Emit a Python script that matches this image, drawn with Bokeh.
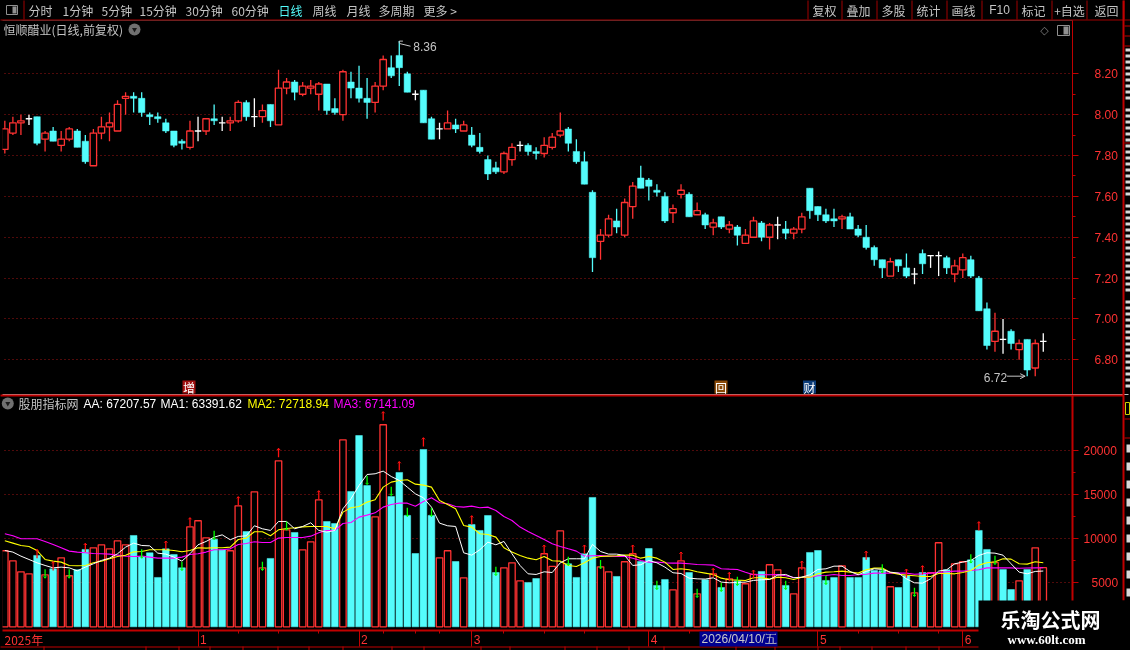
from bokeh.plotting import figure
from bokeh.layouts import column
from bokeh.core.properties import value
from bokeh.models import (Range1d, FixedTicker, Label, Arrow, OpenHead)
from bokeh.embed import file_html
from bokeh.resources import INLINE

open_ = [7.83,7.91,7.96,7.98,7.99,7.88,7.92,7.85,7.88,7.92,
 7.87,7.75,7.91,7.94,7.92,8.08,8.09,8.08,8.00,7.99,
 7.96,7.92,7.87,7.84,7.92,7.92,7.98,7.96,7.96,7.97,
 8.06,7.99,7.99,8.05,7.95,8.13,8.16,8.10,8.13,8.10,
 8.15,8.03,8.00,8.16,8.13,8.08,8.06,8.14,8.23,8.29,
 8.20,8.10,8.12,7.98,7.93,7.93,7.95,7.92,7.90,7.84,
 7.78,7.74,7.72,7.78,7.85,7.85,7.82,7.81,7.84,7.90,
 7.93,7.82,7.77,7.62,7.38,7.41,7.48,7.41,7.55,7.69,
 7.68,7.63,7.60,7.52,7.61,7.61,7.51,7.51,7.45,7.50,
 7.44,7.45,7.37,7.40,7.47,7.40,7.46,7.44,7.42,7.44,
 7.64,7.55,7.51,7.49,7.49,7.50,7.44,7.40,7.35,7.29,
 7.21,7.29,7.25,7.22,7.32,7.31,7.31,7.30,7.22,7.24,
 7.29,7.20,7.05,6.89,6.90,6.94,6.85,6.90,6.76,6.89]
high = [7.97,7.99,8.00,8.00,7.99,7.92,7.94,7.92,7.94,7.93,
 7.90,7.93,7.99,8.01,8.07,8.11,8.11,8.11,8.01,8.01,
 7.98,7.92,7.88,7.97,7.99,7.98,8.05,7.99,7.99,8.07,
 8.07,8.08,8.05,8.05,8.22,8.18,8.17,8.16,8.17,8.16,
 8.15,8.08,8.22,8.21,8.24,8.18,8.16,8.29,8.29,8.36,
 8.21,8.12,8.12,7.99,7.96,8.02,7.98,7.97,7.94,7.91,
 7.80,7.77,7.82,7.86,7.87,7.86,7.84,7.89,7.91,8.01,
 7.94,7.88,7.82,7.63,7.44,7.51,7.54,7.59,7.67,7.75,
 7.69,7.66,7.62,7.56,7.66,7.62,7.57,7.52,7.49,7.50,
 7.48,7.46,7.44,7.50,7.48,7.47,7.50,7.48,7.45,7.52,
 7.64,7.55,7.54,7.54,7.51,7.52,7.46,7.46,7.36,7.29,
 7.30,7.29,7.32,7.25,7.34,7.31,7.33,7.31,7.29,7.32,
 7.31,7.21,7.08,7.03,7.00,6.95,6.90,6.90,6.90,6.93]
low = [7.81,7.90,7.90,7.95,7.85,7.82,7.87,7.82,7.87,7.84,
 7.76,7.75,7.88,7.87,7.92,8.00,8.01,7.99,7.95,7.96,
 7.91,7.84,7.83,7.83,7.87,7.90,7.95,7.92,7.92,7.96,
 7.97,7.94,7.96,7.94,7.95,8.10,8.07,8.09,8.10,8.02,
 8.00,8.00,7.97,8.08,8.06,7.98,8.01,8.12,8.18,8.14,
 8.11,8.07,7.96,7.88,7.88,7.93,7.91,7.92,7.84,7.81,
 7.68,7.71,7.71,7.75,7.82,7.80,7.78,7.79,7.83,7.89,
 7.82,7.76,7.66,7.23,7.29,7.40,7.42,7.40,7.49,7.64,
 7.58,7.60,7.47,7.47,7.59,7.50,7.51,7.44,7.41,7.44,
 7.42,7.36,7.37,7.40,7.38,7.34,7.39,7.39,7.39,7.42,
 7.49,7.48,7.47,7.45,7.44,7.44,7.40,7.34,7.26,7.20,
 7.21,7.23,7.20,7.17,7.22,7.25,7.21,7.22,7.18,7.20,
 7.20,7.04,6.85,6.84,6.83,6.85,6.80,6.72,6.72,6.84]
close = [7.93,7.96,7.97,7.98,7.86,7.91,7.87,7.88,7.93,7.84,
 7.77,7.91,7.94,7.96,8.05,8.09,8.08,8.01,7.99,7.98,
 7.92,7.85,7.86,7.92,7.92,7.98,7.97,7.96,7.97,8.06,
 7.99,7.99,8.02,7.97,8.13,8.16,8.11,8.14,8.14,8.15,
 8.02,8.01,8.21,8.13,8.08,8.06,8.14,8.27,8.19,8.23,
 8.11,8.10,7.96,7.88,7.93,7.96,7.93,7.95,7.85,7.82,
 7.71,7.72,7.81,7.84,7.85,7.82,7.81,7.85,7.89,7.92,
 7.86,7.77,7.66,7.30,7.41,7.49,7.45,7.57,7.65,7.64,
 7.65,7.62,7.48,7.54,7.63,7.50,7.53,7.46,7.47,7.45,
 7.46,7.41,7.41,7.48,7.40,7.46,7.46,7.42,7.44,7.50,
 7.53,7.51,7.48,7.48,7.50,7.44,7.41,7.35,7.29,7.25,
 7.28,7.26,7.21,7.22,7.27,7.31,7.31,7.25,7.26,7.30,
 7.21,7.04,6.87,6.94,6.90,6.88,6.88,6.75,6.88,6.89]
volume = [8640,7500,6250,6020,8110,5910,6590,7840,5800,6480,
 8790,8980,9320,8860,9770,9320,10380,7950,8410,5610,
 8860,8220,6700,11360,12050,10110,9960,8750,8640,13750,
 10830,15340,6700,7770,18860,11020,10720,8750,9660,14430,
 11970,11740,21250,15380,21740,16060,12500,22960,14810,17540,
 12650,8330,20150,12650,7840,8640,7420,5570,11630,10950,
 12650,6170,6700,7270,5230,5040,5490,8300,6860,10910,
 7160,5610,8300,14700,6820,6250,5720,7390,8300,7420,
 8900,4700,5380,4200,7500,6170,3750,5340,6020,4470,
 5450,5190,4890,5950,6290,7050,6480,4700,3750,6700,
 8450,8670,5270,5610,6930,5610,5610,7880,6400,6360,
 4550,4470,5800,3860,6170,6140,9550,6480,7160,7390,
 7610,10950,8790,7310,6520,4240,5230,6520,8980,6721]
vol_red = [0,1,2,3,5,7,8,11,12,13,14,15,23,24,25,28,29,31,32,34,35,37,38,39,42,46,47,54,55,57,62,63,64,
 67,68,69,74,75,77,78,83,84,86,88,90,92,93,95,96,98,99,104,110,113,115,116,118,119,123,126,128,129]
ma1 = [8670,8490,8030,7650,7270,6970,6700,6780,6700,6360,
 6780,7160,7540,7800,8300,9050,9510,9240,9200,8370,
 8260,7920,7460,8300,9320,9700,10190,10450,9890,10270,
 10340,11480,11140,10950,11970,11970,11140,11400,11820,10950,
 10760,10950,13410,14550,16060,17310,17390,17690,17080,16630,
 15870,15110,14660,13600,11780,11480,11400,8410,8140,8750,
 9620,9320,9700,8300,6970,6020,5950,6250,6170,7270,
 7730,7730,7730,9360,8560,8260,8260,8110,6970,7050,
 7540,7270,6780,6140,6060,5530,5450,5420,5570,5080,
 5000,5040,5080,5270,5340,5380,5870,5950,5570,5640,
 5910,6520,6590,6890,6890,6290,5910,6290,6590,6520,
 6210,6100,5450,5000,4960,5450,6330,6480,7160,7350,
 7540,8110,8410,8370,8140,7160,6210,6020,6290,6339]
ma2 = [9770,9510,9240,9130,8670,7650,7460,7350,6970,6930,
 6970,7270,7460,7730,7990,8140,8520,8560,8750,8750,
 8750,8670,8520,8670,8980,8940,8980,8980,9050,9920,
 10080,10800,10800,10340,11020,11170,11250,11360,11400,11400,
 11400,11140,13030,13520,13670,14170,14430,15870,16440,16630,
 16710,16210,16100,15870,14360,13900,13410,11520,11330,10570,
 10490,10190,8980,8490,8110,7800,7610,7990,7500,7460,
 6970,6860,7270,7800,7990,8030,8070,8140,8140,7800,
 7990,7800,7350,6520,6590,6480,6250,6100,5950,5530,
 5340,5300,5270,5570,5570,5420,5640,5570,5380,5640,
 5640,6020,6210,6250,6330,6210,6100,6480,6670,6670,
 6170,5980,5870,5800,5720,5720,6060,6060,6020,6170,
 6400,7010,7270,7390,7730,7690,7160,7120,7390,7272]
ma3 = [10570,10340,10000,10000,10000,9700,9360,8980,8600,8490,
 8410,8330,8300,8260,8140,8030,7990,8030,7920,7800,
 7800,7800,7920,8220,8300,8490,8750,8750,8860,9360,
 9470,9660,9580,9580,10080,10150,10150,10150,10300,10680,
 10950,10950,11740,11860,12460,12690,12950,13600,13900,14050,
 14050,13710,14240,14660,14090,13980,13670,13600,13710,13520,
 13600,13220,12540,12080,11330,10830,10380,9920,9430,9130,
 8860,8600,8030,8070,8110,8030,7990,8030,7800,7540,
 7350,7350,7270,7240,7240,7160,7080,7050,7010,6590,
 6550,6520,6210,5910,5910,5910,5950,5800,5610,5610,
 5640,5800,5830,5950,5830,5830,5910,5980,6100,6100,
 6100,6100,6100,5980,6020,6100,6170,6250,6330,6330,
 6400,6480,6700,6700,6700,6700,6650,6680,6700,6714]
up_idx = [4,6,10,20,23,29,34,39,47,49,52,58,67,72,78,84,88,90,93,99,107,112,114,121]
up_base = [7800,6400,8490,8750,11400,13790,19280,14470,23450,17770,20490,11630,8300,8300,8300,7500,5640,5190,5450,6480,7610,5570,5950,10950]
down_idx = [5,8,17,22,26,32,35,45,48,50,53,61,70,74,81,86,89,91,97,102,109,113,120,123]
down_tip = [5530,5530,7800,6400,9920,6400,10980,16170,14920,12540,12540,5830,6970,6590,4240,3330,4015,4700,4240,4810,6100,3450,7240,7080]
month_idx = [24,44,58,80,101,119]
month_names = ["1","2","3","4","5","6"]
week_idx = [29,34,39,47,51,54,62,67,72,85,90,95,106,111,116,125]
price_ticks = [6.8,7.0,7.2,7.4,7.6,7.8,8.0,8.2]
price_minor = [6.9,7.1,7.3,7.5,7.7,7.9,8.1]
vol_ticks = [5000,10000,15000,20000]
vol_minor = [2500,7500,12500,17500]
left_tabs = [("分时",28),("1分钟",62),("5分钟",101),("15分钟",139),("30分钟",185),("60分钟",231),("日线",278),("周线",312),("月线",346),("多周期",378),("更多 >",423)]
right_tabs = [("复权",824),("叠加",858),("多股",893),("统计",928),("画线",963),("F10",999),("标记",1033),("+自选",1069),("返回",1106)]

RED, CYAN, AX, DOT, GRAY = "#ff3232", "#54fcfc", "#c00000", "#a01414", "#c4c4c4"
CJK, SANS = "Noto Sans CJK SC", "Liberation Sans"
n = len(close)
W, H1, H2 = 1130, 394, 256
X0, X1, FW = -0.538, 132.63, 1072

x_range = Range1d(X0, X1)
p1 = figure(width=W, height=H1, x_range=x_range, y_range=Range1d(6.6303, 8.4609), output_backend="svg", toolbar_location=None,
            x_axis_location=None, y_axis_location="right", min_border_left=0, min_border_right=58, min_border_top=20, min_border_bottom=0,
            background_fill_color="black", border_fill_color="black", outline_line_color=None)
p2 = figure(width=W, height=H2, x_range=x_range, y_range=Range1d(-420, 26284), output_backend="svg", toolbar_location=None,
            x_axis_location="below", y_axis_location="right", min_border_left=0, min_border_right=58, min_border_top=1, min_border_bottom=20,
            background_fill_color="black", border_fill_color="black", outline_line_color=None)
# transparent layer, in page pixels, for the terminal's toolbars, side strip and watermark
PAD = 1
p3 = figure(width=W+2*PAD, height=H1+H2+2*PAD, x_range=Range1d(-PAD, W+PAD), y_range=Range1d(H1+H2+PAD, -PAD), output_backend="svg", toolbar_location=None,
            x_axis_location=None, y_axis_location=None, min_border=0, background_fill_alpha=0, border_fill_alpha=0, outline_line_color=None,
            styles={"position": "fixed", "left": f"{-PAD}px", "top": f"{-PAD}px", "z-index": "10", "clip-path": f"inset({PAD}px)"})
p3.grid.visible = False

def style_axis(ax, major, minor, standoff, lw):
    ax.ticker = FixedTicker(ticks=major, minor_ticks=minor)
    ax.axis_line_color = AX; ax.axis_line_width = lw
    ax.major_tick_line_color = AX; ax.minor_tick_line_color = AX
    ax.major_tick_in = 0; ax.major_tick_out = 6; ax.minor_tick_in = 0; ax.minor_tick_out = 3
    ax.major_label_text_color = RED; ax.major_label_text_font = SANS; ax.major_label_text_font_size = "12px"
    ax.major_label_standoff = standoff

style_axis(p1.yaxis[0], price_ticks, price_minor, 16, 1)
p1.yaxis[0].major_label_overrides = {v: f"{v:.2f}" for v in price_ticks}
style_axis(p2.yaxis[0], vol_ticks, vol_minor, 5, 2)
p2.yaxis[0].major_label_overrides = {5000: ""}

for p, tks in ((p1, price_ticks), (p2, vol_ticks)):
    p.xgrid.visible = False
    g = p.ygrid[0]
    g.ticker = FixedTicker(ticks=tks)
    g.grid_line_color = DOT; g.grid_line_dash = "1 3"; g.grid_line_width = 1

xa = p2.xaxis[0]
xa.ticker = FixedTicker(ticks=month_idx, minor_ticks=week_idx)
xa.axis_line_color = AX; xa.axis_line_width = 2
xa.major_tick_line_color = AX; xa.minor_tick_line_color = AX
xa.major_tick_in = 0; xa.major_tick_out = 16; xa.minor_tick_in = 0; xa.minor_tick_out = 3
xa.major_label_text_font_size = "0px"
xa.major_label_overrides = {m: "" for m in month_idx}

# candles
BW = 0.8
LW = 1.3
up = [i for i in range(n) if close[i] > open_[i]]
dn = [i for i in range(n) if close[i] < open_[i]]
dj = [i for i in range(n) if close[i] == open_[i]]
def seg(p, idx, color):
    p.segment([i for i in idx], [high[i] for i in idx], [i for i in idx], [low[i] for i in idx], line_color=color, line_width=LW)
seg(p1, up, RED); seg(p1, dn, CYAN); seg(p1, dj, "#ffffff")
p1.vbar(x=dn, top=[open_[i] for i in dn], bottom=[close[i] for i in dn], width=BW, fill_color=CYAN, line_color=CYAN, line_width=0.5)
p1.vbar(x=up, top=[close[i] for i in up], bottom=[open_[i] for i in up], width=BW, fill_color="black", line_color=RED, line_width=LW)
p1.segment([i-0.4 for i in dj], [close[i] for i in dj], [i+0.4 for i in dj], [close[i] for i in dj], line_color="#ffffff", line_width=LW)

# high / low marks
hi = high.index(max(high)); lo = low.index(min(low))
p1.line([hi, hi, hi+0.45], [high[hi]-0.01, high[hi], high[hi]], line_color=GRAY, line_width=1)
p1.line([hi+0.05, hi+1.4], [high[hi]-0.012, high[hi]-0.025], line_color=GRAY, line_width=1)
p1.add_layout(Label(x=hi, y=high[hi], x_offset=14, y_offset=-5, text=f"{high[hi]:.2f}", text_color=GRAY, text_font=SANS, text_font_size="12px", text_baseline="middle"))
p1.add_layout(Label(x=lo, y=low[lo], x_offset=-20, y_offset=-1, text=f"{low[lo]:.2f}", text_color=GRAY, text_font=SANS, text_font_size="12px", text_baseline="middle", text_align="right"))
p1.add_layout(Arrow(x_start=lo-2.5, y_start=low[lo], x_end=lo-0.25, y_end=low[lo], line_color=GRAY, line_width=1, end=OpenHead(size=5, line_color=GRAY, line_width=1)))

# volume
r_set = set(vol_red)
vr = [i for i in range(n) if i in r_set]; vc = [i for i in range(n) if i not in r_set]
p2.vbar(x=vc, top=[volume[i] for i in vc], bottom=0, width=BW+0.03, fill_color=CYAN, line_color=CYAN, line_width=0.5)
p2.vbar(x=vr, top=[volume[i] for i in vr], bottom=0, width=BW, fill_color="black", line_color=RED, line_width=LW)
xs = list(range(n))
p2.line(xs, ma3, line_color="#ff00ff", line_width=1.1)
p2.line(xs, ma2, line_color="#ffff00", line_width=1.1)
p2.line(xs, ma1, line_color="#ffffff", line_width=1)
L, HW, HH = 1000, 0.2, 190
p2.segment(up_idx, up_base, up_idx, [b+L for b in up_base], line_color="#ff1010", line_width=LW)
p2.multi_line([[i-HW, i, i+HW] for i in up_idx], [[b+L-HH, b+L, b+L-HH] for b in up_base], line_color="#ff1010", line_width=1)
p2.segment(down_idx, down_tip, down_idx, [b+L for b in down_tip], line_color="#00ff00", line_width=LW)
p2.multi_line([[i-HW, i, i+HW] for i in down_idx], [[b+HH, b, b+HH] for b in down_tip], line_color="#00ff00", line_width=1)

# chrome helpers (page pixels on the transparent layer)
def box(l, r, t, b, fill=AX, line=None):
    p3.quad(left=[l], right=[r], top=[t], bottom=[b], fill_color=fill, fill_alpha=1 if fill else 0, line_color=line, line_alpha=1 if line else 0)
def txt(x, y, s, color=GRAY, font=CJK, size="12px", align="left", style="normal"):
    p3.text(x=[x], y=[y], text=[s], text_color=color, text_font=value(font), text_font_size=size, text_align=align, text_baseline="middle", text_font_style=style)
def knob(x, y):
    p3.scatter([x], [y], size=12, fill_color="#707070", line_color=None)
    p3.scatter([x], [y], size=5, marker="inverted_triangle", fill_color="#1a1a1a", line_color=None)

# page edges
box(-PAD, W+PAD, -PAD, 2, fill="#000000")
box(-PAD, 2, -PAD, H1+H2+PAD, fill="#000000")
box(W-2, W+PAD, -PAD, H1+H2+PAD, fill="#000000")
# top bar
box(0, W, 19, 20, fill="#a00000")
box(23, 24, 0, 19, fill="#a00000")
box(6, 17, 5, 14, fill="#000000", line="#909090")
box(12, 16, 6, 13, fill="#909090")
for s, x in left_tabs:
    txt(x, 9.5, s, color=CYAN if s == "日线" else GRAY)
for s, x in right_tabs:
    txt(x, 9.5, s, align="center", font=SANS if s == "F10" else CJK)
for x in (807,841,876,911,946,981,1016,1051,1086,1123):
    box(x, x+1, 0, 19, fill="#a00000")
txt(3, 29, "恒顺醋业(日线,前复权)")
knob(134, 29)
txt(1044, 30, "◇", color="#808080", font="DejaVu Sans", size="11px", align="center")
box(1057, 1069, 25, 35, fill="#000000", line="#909090")
box(1063, 1068, 26, 34, fill="#909090")
# right strip
box(1122, 1124, 0, 600, fill=AX)
for y in (25, 35, 45, 142, 239, 336, 418, 437):
    box(1124, W, y, y+1, fill=AX)
for y in range(48, 392, 6):
    if y % 97 > 6:
        box(1125, W, y, y+3, fill="#d8d8d8")
box(1125, 1129, 402, 414, fill=None, line="#d0d000")
for y in range(444, 596, 18):
    box(1126, W, y, y+8, fill="#d8d8d8")
# markers
box(182, 195, 380, 393, fill="#a01010")
txt(188.5, 386.5, "增", color="#ffffff", align="center")
box(714, 727, 380, 393, fill="#8a4a08")
txt(720.5, 386.5, "回", color="#ffffff", align="center")
box(802.5, 815.5, 380, 393, fill="#0c3c78")
txt(809, 386.5, "财", color="#ffffff", align="center")

# lower pane chrome
box(0, 1123, 394, 396, fill=AX)
knob(7.3, 403)
txt(18, 403, "股朋指标网")
txt(83, 403, "AA: 67207.57", color="#ffffff", font=SANS)
txt(160, 403, "MA1: 63391.62", color="#ffffff", font=SANS)
txt(247, 403, "MA2: 72718.94", color="#ffff00", font=SANS)
txt(333, 403, "MA3: 67141.09", color="#ff00ff", font=SANS)
txt(1117.7, 582.3, "5000", color=RED, font=SANS, align="right")

# date strip
box(0, 1072, 646, 647, fill=AX)
box(1072, 1074, 630, 646, fill=AX)
for x in (43,145,178,209,242,277,308,342,391,423,480,509,564,596,628,663,735,774,817,839,871,905,938):
    box(x, x+1, 646, 650, fill=AX)
box(699, 777, 631, 646, fill="#000090")
txt(701, 638.5, "2026/04/10/五", color="#c8c8c8", font=SANS)
txt(4, 638.5, "2025年", color=RED)
for m, s in zip(month_idx, month_names):
    txt((m - X0) * FW / (X1 - X0) + 2, 638.5, s, color=RED, font=SANS)

# watermark
box(978, W, 600, 650, fill="#000000")
txt(1050, 619, "乐淘公式网", color="#ffffff", font=CJK, size="20px", align="center", style="bold")
txt(1046, 639, "www.60lt.com", color="#ffffff", font="Liberation Serif", size="13px", align="center", style="bold")

page = column(p1, p2, spacing=0, styles={"position": "fixed", "left": "0px", "top": "0px"})
open("out.html", "w").write(file_html([page, p3], INLINE))
